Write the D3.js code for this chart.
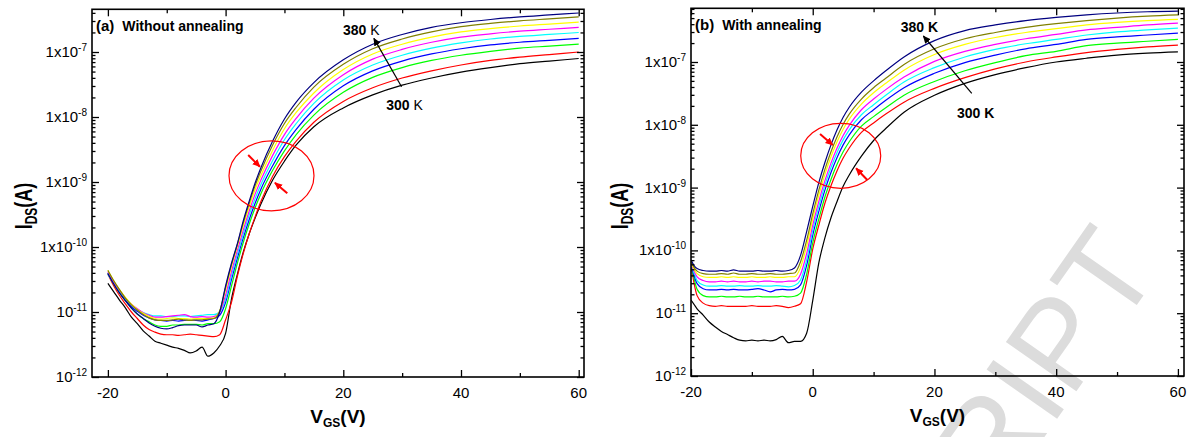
<!DOCTYPE html>
<html><head><meta charset="utf-8">
<script src="https://cdn.jsdelivr.net/npm/d3@7"></script>
<style>
body{margin:0;background:#fff;}
svg{display:block;font-family:"Liberation Sans",Arial,Helvetica,sans-serif;}
</style></head><body>
<svg id="chart" width="1193" height="437"></svg>
<script>
// ---------- data ----------
const temps = [300,310,320,330,340,350,360,370,380];
const seriesColors = ["#000000","#ff0000","#00ff00","#0000ff","#00ffff","#ff00ff","#ffff00","#808000","#000080"];
const xMajor = [-20,0,20,40,60];
const xMinor = [-10,10,30,50];
const yExponents = [-12,-11,-10,-9,-8,-7];
const yPrefixes = ["","","1x","1x","1x","1x"];

// panel (a) without annealing : V_GS values and log10(I_DS) for each temperature
const xL = [-20,-19,-18,-17,-16,-15,-14,-13,-12,-11,-10,-9,-8,-7,-6,-5,-4,-3,-2,-1,0,1,2,3,4,5,6,8,10,12,15,20,25,30,35,40,45,50,55,60];
const left300 = [-10.56,-10.69,-10.82,-10.94,-11.08,-11.18,-11.29,-11.37,-11.45,-11.48,-11.51,-11.54,-11.56,-11.59,-11.63,-11.6,-11.54,-11.68,-11.63,-11.52,-11.33,-10.8,-10.42,-10.08,-9.8,-9.56,-9.34,-8.97,-8.68,-8.43,-8.15,-7.86,-7.66,-7.51,-7.4,-7.31,-7.24,-7.18,-7.14,-7.1];
const left310 = [-10.42,-10.6,-10.75,-10.88,-11.0,-11.1,-11.2,-11.27,-11.31,-11.34,-11.35,-11.35,-11.36,-11.35,-11.34,-11.35,-11.36,-11.37,-11.38,-11.35,-11.12,-10.85,-10.45,-10.1,-9.8,-9.54,-9.3,-8.91,-8.61,-8.37,-8.08,-7.76,-7.55,-7.4,-7.29,-7.2,-7.13,-7.08,-7.04,-7.0];
const left320 = [-10.4,-10.57,-10.71,-10.83,-10.94,-11.03,-11.1,-11.15,-11.2,-11.22,-11.22,-11.2,-11.2,-11.19,-11.19,-11.19,-11.2,-11.18,-11.18,-11.15,-10.95,-10.6,-10.25,-9.93,-9.65,-9.4,-9.18,-8.82,-8.52,-8.27,-7.97,-7.62,-7.39,-7.24,-7.13,-7.05,-6.99,-6.94,-6.91,-6.88];
const left330 = [-10.4,-10.56,-10.7,-10.82,-10.92,-10.99,-11.05,-11.09,-11.12,-11.13,-11.14,-11.13,-11.14,-11.13,-11.12,-11.13,-11.14,-11.12,-11.1,-11.05,-10.85,-10.5,-10.17,-9.86,-9.58,-9.33,-9.11,-8.75,-8.44,-8.19,-7.88,-7.52,-7.29,-7.14,-7.03,-6.95,-6.89,-6.85,-6.82,-6.79];
const left340 = [-10.42,-10.56,-10.69,-10.8,-10.89,-10.96,-11.01,-11.04,-11.06,-11.06,-11.07,-11.07,-11.06,-11.06,-11.07,-11.06,-11.05,-11.04,-11.04,-11.0,-10.8,-10.44,-10.11,-9.8,-9.51,-9.26,-9.04,-8.67,-8.35,-8.1,-7.79,-7.43,-7.2,-7.05,-6.94,-6.86,-6.8,-6.76,-6.73,-6.7];
const left350 = [-10.38,-10.54,-10.67,-10.79,-10.88,-10.95,-11.01,-11.05,-11.08,-11.08,-11.07,-11.06,-11.05,-11.04,-11.07,-11.08,-11.07,-11.08,-11.07,-11.0,-10.74,-10.38,-10.05,-9.74,-9.45,-9.19,-8.97,-8.59,-8.27,-8.02,-7.71,-7.35,-7.11,-6.96,-6.85,-6.77,-6.72,-6.68,-6.65,-6.62];
const left360 = [-10.36,-10.52,-10.66,-10.78,-10.88,-10.96,-11.02,-11.07,-11.1,-11.11,-11.1,-11.09,-11.1,-11.1,-11.11,-11.1,-11.1,-11.1,-11.09,-10.98,-10.66,-10.3,-9.99,-9.67,-9.38,-9.12,-8.9,-8.51,-8.18,-7.93,-7.63,-7.27,-7.03,-6.88,-6.77,-6.69,-6.64,-6.6,-6.57,-6.54];
const left370 = [-10.36,-10.52,-10.66,-10.79,-10.89,-10.97,-11.04,-11.09,-11.12,-11.13,-11.13,-11.12,-11.11,-11.12,-11.13,-11.12,-11.12,-11.11,-11.1,-10.99,-10.62,-10.27,-9.96,-9.63,-9.33,-9.06,-8.83,-8.43,-8.1,-7.85,-7.54,-7.19,-6.95,-6.8,-6.69,-6.61,-6.56,-6.52,-6.49,-6.46];
const left380 = [-10.41,-10.57,-10.71,-10.83,-10.94,-11.03,-11.1,-11.17,-11.22,-11.25,-11.26,-11.24,-11.21,-11.2,-11.2,-11.2,-11.23,-11.2,-11.18,-11.0,-10.6,-10.25,-9.95,-9.6,-9.3,-9.02,-8.78,-8.37,-8.03,-7.77,-7.47,-7.12,-6.88,-6.73,-6.62,-6.55,-6.5,-6.46,-6.43,-6.4];

// panel (b) with annealing
const xR = [-20,-19.5,-19,-18,-17,-16,-15,-14,-13,-12,-11,-10,-9,-8,-7,-6,-5,-4,-3,-2,-1,0,1,2,3,4,5,6,8,10,12,15,20,25,30,35,40,45,50,55,60];
const right300 = [-10.79,-10.86,-10.93,-11.03,-11.14,-11.22,-11.29,-11.34,-11.39,-11.43,-11.44,-11.43,-11.44,-11.43,-11.44,-11.42,-11.37,-11.47,-11.45,-11.45,-11.32,-10.8,-10.2,-9.8,-9.48,-9.22,-8.98,-8.8,-8.5,-8.25,-8.06,-7.8,-7.53,-7.34,-7.2,-7.09,-7.0,-6.94,-6.89,-6.86,-6.84];
const right310 = [-10.23,-10.52,-10.72,-10.84,-10.88,-10.89,-10.88,-10.89,-10.89,-10.89,-10.89,-10.88,-10.89,-10.89,-10.89,-10.88,-10.89,-10.91,-10.89,-10.85,-10.5,-9.98,-9.6,-9.25,-8.97,-8.73,-8.53,-8.37,-8.12,-7.97,-7.83,-7.64,-7.42,-7.25,-7.11,-7.0,-6.92,-6.85,-6.8,-6.76,-6.73];
const right320 = [-10.22,-10.45,-10.62,-10.72,-10.74,-10.74,-10.73,-10.74,-10.74,-10.73,-10.74,-10.74,-10.73,-10.74,-10.74,-10.74,-10.73,-10.74,-10.73,-10.68,-10.38,-9.88,-9.5,-9.15,-8.87,-8.63,-8.43,-8.27,-8.02,-7.87,-7.73,-7.53,-7.31,-7.14,-7.01,-6.9,-6.83,-6.74,-6.7,-6.67,-6.64];
const right330 = [-10.22,-10.4,-10.53,-10.61,-10.63,-10.63,-10.62,-10.63,-10.62,-10.63,-10.63,-10.62,-10.61,-10.63,-10.66,-10.63,-10.62,-10.63,-10.62,-10.55,-10.24,-9.76,-9.38,-9.04,-8.76,-8.52,-8.32,-8.16,-7.92,-7.76,-7.61,-7.41,-7.18,-7.01,-6.89,-6.79,-6.72,-6.64,-6.6,-6.57,-6.54];
const right340 = [-10.2,-10.36,-10.48,-10.55,-10.57,-10.57,-10.56,-10.57,-10.57,-10.56,-10.57,-10.57,-10.56,-10.57,-10.57,-10.56,-10.57,-10.58,-10.56,-10.47,-10.15,-9.68,-9.3,-8.96,-8.68,-8.44,-8.24,-8.08,-7.84,-7.68,-7.53,-7.32,-7.09,-6.92,-6.8,-6.71,-6.64,-6.57,-6.52,-6.49,-6.46];
const right350 = [-10.2,-10.33,-10.42,-10.48,-10.5,-10.5,-10.49,-10.5,-10.49,-10.5,-10.5,-10.49,-10.5,-10.49,-10.49,-10.5,-10.5,-10.49,-10.49,-10.38,-10.05,-9.6,-9.22,-8.89,-8.61,-8.37,-8.17,-8.01,-7.76,-7.59,-7.44,-7.24,-6.99,-6.83,-6.72,-6.63,-6.56,-6.49,-6.45,-6.41,-6.38];
const right360 = [-10.18,-10.3,-10.37,-10.42,-10.43,-10.43,-10.42,-10.43,-10.42,-10.43,-10.43,-10.42,-10.43,-10.43,-10.42,-10.43,-10.43,-10.42,-10.42,-10.27,-9.93,-9.5,-9.12,-8.79,-8.51,-8.27,-8.07,-7.91,-7.67,-7.49,-7.34,-7.13,-6.88,-6.72,-6.61,-6.53,-6.47,-6.41,-6.37,-6.34,-6.32];
const right370 = [-10.17,-10.27,-10.33,-10.37,-10.38,-10.38,-10.37,-10.38,-10.36,-10.38,-10.38,-10.37,-10.38,-10.38,-10.37,-10.38,-10.38,-10.37,-10.36,-10.18,-9.84,-9.42,-9.04,-8.71,-8.43,-8.19,-7.99,-7.83,-7.59,-7.41,-7.26,-7.04,-6.79,-6.63,-6.53,-6.45,-6.39,-6.34,-6.3,-6.27,-6.25];
const right380 = [-10.15,-10.24,-10.29,-10.32,-10.33,-10.33,-10.32,-10.33,-10.31,-10.33,-10.33,-10.33,-10.32,-10.33,-10.33,-10.32,-10.33,-10.32,-10.28,-10.08,-9.7,-9.3,-8.92,-8.6,-8.32,-8.08,-7.88,-7.72,-7.48,-7.3,-7.14,-6.92,-6.66,-6.5,-6.41,-6.34,-6.29,-6.25,-6.22,-6.2,-6.19];

// ---------- drawing ----------
const svg = d3.select("#chart");
const defs = svg.append("defs");
function marker(id, color, size) {
  defs.append("marker").attr("id", id).attr("viewBox","0 0 10 10")
    .attr("refX",9).attr("refY",5).attr("markerWidth",size).attr("markerHeight",size)
    .attr("markerUnits","userSpaceOnUse").attr("orient","auto")
    .append("path").attr("d","M0,0.5 L10,5 L0,9.5 Z").attr("fill",color);
}
marker("headBlack","#000",8);
marker("headRed","#f00",8);

// watermark fragment (behind everything)
svg.append("text")
  .attr("transform","translate(1162,269) rotate(-55)")
  .attr("text-anchor","end")
  .attr("font-size",125)
  .attr("fill","#dcdcdc")
  .text("RIPT");

function drawPanel(p) {
  const x = d3.scaleLinear().domain(p.xDomain).range([p.left, p.right]);
  const y = d3.scaleLog().domain(p.yDomain).range([p.bottom, p.top]);
  const g = svg.append("g");
  const clipId = "clip" + p.id;
  defs.append("clipPath").attr("id", clipId).append("rect")
    .attr("x", p.left).attr("y", p.top).attr("width", p.right - p.left).attr("height", p.bottom - p.top);

  const line = d3.line().x(d => x(d[0])).y(d => y(Math.pow(10, d[1]))).curve(d3.curveMonotoneX);
  const lg = g.append("g").attr("clip-path", `url(#${clipId})`);
  p.series.forEach((vals, i) => {
    lg.append("path").datum(p.xs.map((v, j) => [v, vals[j]]))
      .attr("d", line).attr("fill", "none")
      .attr("stroke", seriesColors[i]).attr("stroke-width", 1.2);
  });

  // ticks (inward)
  const yMinor = [];
  yExponents.forEach(e => { for (let k = 2; k <= 9; k++) { const v = k * Math.pow(10, e); if (v < p.yDomain[1]) yMinor.push(v); } });
  const yMajor = yExponents.map(e => Math.pow(10, e));
  const ax = (gen, tx, ty) => g.append("g").attr("transform", `translate(${tx},${ty})`).call(gen)
     .call(s => { s.select(".domain").remove(); s.selectAll("text").remove(); s.selectAll("line").attr("stroke","#000").attr("stroke-width",1.3); });
  ax(d3.axisBottom(x).tickValues(xMajor).tickSize(-7), 0, p.bottom);
  ax(d3.axisBottom(x).tickValues(xMinor).tickSize(-4), 0, p.bottom);
  ax(d3.axisTop(x).tickValues(xMajor).tickSize(-7), 0, p.top);
  ax(d3.axisTop(x).tickValues(xMinor).tickSize(-4), 0, p.top);
  ax(d3.axisLeft(y).tickValues(yMajor).tickSize(-7), p.left, 0);
  ax(d3.axisLeft(y).tickValues(yMinor).tickSize(-3.5), p.left, 0);
  ax(d3.axisRight(y).tickValues(yMajor).tickSize(-7), p.right, 0);
  ax(d3.axisRight(y).tickValues(yMinor).tickSize(-3.5), p.right, 0);

  // frame
  g.append("rect").attr("x", p.left).attr("y", p.top)
    .attr("width", p.right - p.left).attr("height", p.bottom - p.top)
    .attr("fill", "none").attr("stroke", "#000").attr("stroke-width", 1.6);

  // tick labels
  yExponents.forEach((e, i) => {
    const t = g.append("text").attr("x", p.left - 5).attr("y", y(Math.pow(10, e)) + 5)
      .attr("text-anchor", "end").attr("font-size", 15).attr("fill", "#000");
    t.append("tspan").text(yPrefixes[i] + "10");
    t.append("tspan").attr("dy", -6).attr("font-size", 10).text(String(e));
  });
  xMajor.forEach(v => {
    g.append("text").attr("x", x(v)).attr("y", p.bottom + 21)
      .attr("text-anchor", "middle").attr("font-size", 15).text(String(v));
  });

  // axis titles
  const xt = g.append("text").attr("x", (p.left + p.right) / 2).attr("y", p.bottom + 46)
    .attr("text-anchor", "middle").attr("font-size", 19).attr("font-weight", "bold");
  xt.append("tspan").text("V");
  xt.append("tspan").attr("font-size", 12).attr("dy", 4).text("GS");
  xt.append("tspan").attr("dy", -4).text("(V)");

  const yt = g.append("text").attr("transform", `translate(${p.ytX},${p.ytY}) rotate(-90) scale(0.75,1)`)
    .attr("text-anchor", "middle").attr("font-size", 24).attr("font-weight", "bold");
  yt.append("tspan").text("I");
  yt.append("tspan").attr("font-size", 16).attr("dy", 5).text("DS");
  yt.append("tspan").attr("dy", -5).text("(A)");

  // panel label
  const pl = g.append("text").attr("x", p.left + 4).attr("y", p.labelY).attr("font-weight", "bold");
  pl.append("tspan").attr("font-size", 15).text(p.tag);
  pl.append("tspan").attr("font-size", 14).attr("dx", 8).text(p.title);

  // temperature arrow
  const a = p.tArrow;
  g.append("line").attr("x1", x(a[0])).attr("y1", y(Math.pow(10, a[1])))
    .attr("x2", x(a[2])).attr("y2", y(Math.pow(10, a[3])))
    .attr("stroke", "#000").attr("stroke-width", 1.2).attr("marker-end", "url(#headBlack)");
  const hi = g.append("text").attr("x", x(p.hiPos[0])).attr("y", y(Math.pow(10, p.hiPos[1]))).attr("font-size", 14);
  hi.append("tspan").attr("font-weight", "bold").text(String(temps[temps.length - 1]));
  hi.append("tspan").attr("font-weight", p.kBold ? "bold" : "normal").text(" K");
  const lo = g.append("text").attr("x", x(p.loPos[0])).attr("y", y(Math.pow(10, p.loPos[1]))).attr("font-size", 14);
  lo.append("tspan").attr("font-weight", "bold").text(String(temps[0]));
  lo.append("tspan").attr("font-weight", p.kBold ? "bold" : "normal").text(" K");

  // red ellipse with arrows
  const el = p.ellipse;
  g.append("ellipse").attr("cx", x(el[0])).attr("cy", y(Math.pow(10, el[1])))
    .attr("rx", el[2]).attr("ry", el[3]).attr("fill", "none").attr("stroke", "#ff0000").attr("stroke-width", 1.2);
  p.redArrows.forEach(r => {
    g.append("line").attr("x1", x(r[0])).attr("y1", y(Math.pow(10, r[1])))
      .attr("x2", x(r[2])).attr("y2", y(Math.pow(10, r[3])))
      .attr("stroke", "#ff0000").attr("stroke-width", 2).attr("marker-end", "url(#headRed)");
  });
}

drawPanel({
  id: "a", left: 92, right: 584, top: 9.3, bottom: 377,
  xDomain: [-22.7, 60.9], yDomain: [1e-12, 4.54e-7],
  xs: xL, series: [left300,left310,left320,left330,left340,left350,left360,left370,left380],
  ytX: 31.5, ytY: 206, labelY: 31, tag: "(a)", title: "Without annealing",
  tArrow: [29.9, -7.534, 25.2, -6.79], hiPos: [19.95, -6.74], loPos: [27.3, -7.89], kBold: false,
  ellipse: [7.8, -8.905, 42.5, 35],
  redArrows: [[3.84, -8.585, 5.83, -8.765], [10.48, -9.174, 8.38, -9.01]]
});
drawPanel({
  id: "b", left: 691, right: 1184, top: 8.3, bottom: 376,
  xDomain: [-20, 61], yDomain: [1e-12, 7.16e-7],
  xs: xR, series: [right300,right310,right320,right330,right340,right350,right360,right370,right380],
  ytX: 628, ytY: 206, labelY: 29.5, tag: "(b)", title: "With annealing",
  tArrow: [26.13, -7.498, 18.18, -6.586], hiPos: [14.46, -6.522], loPos: [23.7, -7.892], kBold: true,
  ellipse: [4.6, -8.494, 40, 32.5],
  redArrows: [[1.2, -8.146, 3.29, -8.322], [8.97, -8.879, 7.12, -8.693]]
});
</script>
</body></html>
